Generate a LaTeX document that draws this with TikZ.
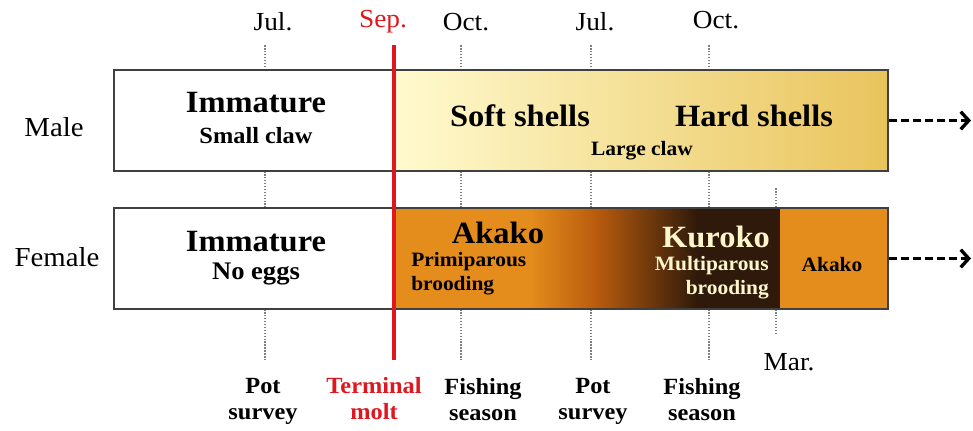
\documentclass[tikz,border=0pt]{standalone}
\usepackage{fontspec}
\setmainfont[FakeStretch=1.05]{Liberation Serif}
\usetikzlibrary{arrows.meta}
\definecolor{TermRed}{RGB}{222,24,30}
\definecolor{ShellLight}{RGB}{255,250,206}
\definecolor{ShellMid}{RGB}{242,214,120}
\definecolor{ShellGold}{RGB}{233,196,92}
\definecolor{EggOrange}{RGB}{228,140,28}
\definecolor{EggBrown}{RGB}{186,92,14}
\definecolor{EggDark}{RGB}{46,25,10}
\definecolor{KurokoText}{RGB}{255,246,204}

\begin{document}
\begin{tikzpicture}[x=0.025cm, y=-0.025cm, inner sep=0pt, box/.style={draw=black!75, line width=1.3pt, minimum width=19.35cm, minimum height=2.525cm}, tick/.style={densely dotted, black!50, line width=1.1pt}, molt/.style={TermRed, line width=2.3pt}, month/.style={font=\fontsize{18.5}{21}\selectfont}, sexlbl/.style={font=\fontsize{19.5}{22}\selectfont}, big/.style={font=\bfseries\fontsize{22}{25}\selectfont}, sub/.style={font=\bfseries\fontsize{14.5}{17}\selectfont, align=center}, event/.style={font=\bfseries\fontsize{16.5}{18.5}\selectfont, align=center}, dasharr/.style={-{Straight Barb[length=2mm, width=4.4mm]}, line width=2.4pt, dash pattern=on 5.5pt off 3pt}]
\useasboundingbox (0,0) rectangle (973,430);
% colour bands
\shade[left color=ShellLight, middle color=ShellMid, right color=ShellGold] (396,70) rectangle (888,171);
\fill[EggOrange] (394,208) rectangle (531,309);
\shade[left color=EggOrange, right color=EggBrown] (530,208) rectangle (596,309);
\shade[left color=EggBrown, right color=EggDark] (595,208) rectangle (698,309);
\fill[EggDark] (697,208) rectangle (780,309);
\fill[EggOrange] (780,208) rectangle (888,309);
% time marks
\draw[tick] (265,45) -- (265,70); \draw[tick] (265,171) -- (265,208); \draw[tick] (265,309) -- (265,360);
\draw[tick] (461,45) -- (461,70); \draw[tick] (461,171) -- (461,208); \draw[tick] (461,309) -- (461,360);
\draw[tick] (591,45) -- (591,70); \draw[tick] (591,171) -- (591,208); \draw[tick] (591,309) -- (591,360);
\draw[tick] (709,45) -- (709,70); \draw[tick] (709,171) -- (709,208); \draw[tick] (709,309) -- (709,360);
\draw[tick] (776,188) -- (776,208); \draw[tick] (776,309) -- (776,335);
% boxes
\node[box] (male) at (501,120.5) {};
\node[box] (female) at (501,258.5) {};
\draw[molt] (394,45) -- (394,360);
\coordinate (mend) at (971,120.5);
\coordinate (fend) at (971,258.5);
\draw[dasharr] (male.east) -- (mend);
\draw[dasharr] (female.east) -- (fend);
% months
\node[month] (jul1) at (273,22) {Jul.};
\node[month, text=TermRed] (sep) at (383,22) {Sep.};
\node[month] (oct1) at (466,22) {Oct.};
\node[month] (jul2) at (595,22) {Jul.};
\node[month] (oct2) at (716,20) {Oct.};
\node[month] (mar) at (789,362) {Mar.};
\node[sexlbl] (mlbl) at (54,127) {Male};
\node[sexlbl] (flbl) at (57,257) {Female};
% male
\node[big] (mimm) at (256,103) {Immature};
\node[sub, font=\bfseries\fontsize{16.5}{19}\selectfont] (mclaw) at (256,136) {Small claw};
\node[big] (soft) at (520,116) {Soft shells};
\node[big] (hard) at (754,116) {Hard shells};
\node[sub] (lclaw) at (642,151) {Large claw};
% female
\node[big] (fimm) at (256,242) {Immature};
\node[sub, font=\bfseries\fontsize{18}{20}\selectfont] (noegg) at (256,274) {No eggs};
\node[big] (akako) at (498,233) {Akako};
\node[sub, align=left, anchor=west] (prim) at (411,274) {Primiparous\\brooding};
\node[big, text=KurokoText] (kuroko) at (716,237) {Kuroko};
\node[sub, align=right, anchor=east, text=KurokoText] (multi) at (769,278) {Multiparous\\brooding};
\node[sub] (akako2) at (832,265) {Akako};
% events
\node[event] (pot1) at (263,401) {Pot\\survey};
\node[event, text=TermRed] (term) at (374,399) {Terminal\\molt};
\node[event] (fish1) at (483,400) {Fishing\\season};
\node[event] (pot2) at (593,401) {Pot\\survey};
\node[event] (fish2) at (702,400) {Fishing\\season};
\end{tikzpicture}
\end{document}
